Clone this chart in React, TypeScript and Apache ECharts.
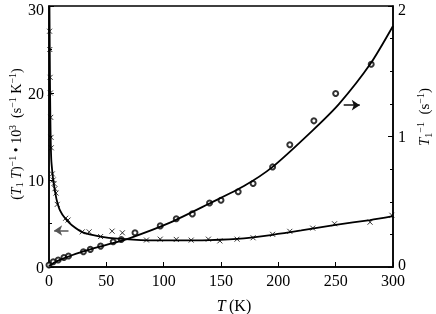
import React, { useEffect, useRef } from "react";
import * as echarts from "echarts";

// (T1 T)^-1 * 10^3 data (crosses), left axis, s^-1 K^-1
const T_CROSS = [0.5, 0.7, 1.0, 1.2, 1.5, 1.8, 2.0, 2.9, 3.7, 4.4, 5.2, 6.1, 7.2, 14.5, 16.6, 29, 35, 45, 55, 64, 85, 97, 111, 124, 139, 149, 164, 178, 195, 210, 230, 249, 280, 299];
const L_CROSS = [27.1, 25.0, 21.8, 20.0, 17.2, 14.9, 13.7, 10.7, 10.0, 9.6, 9.0, 8.5, 7.2, 5.6, 5.4, 4.04, 4.04, 3.5, 4.12, 3.93, 3.1, 3.2, 3.17, 3.09, 3.2, 3.0, 3.2, 3.36, 3.76, 4.1, 4.47, 4.97, 5.15, 5.95];

// fitted curve for (T1 T)^-1
const T_CROSS_FIT = [0.4, 0.8, 1.2, 1.5, 2, 3, 3.7, 5, 6.7, 9.6, 14, 20, 30, 45, 60, 80, 110, 140, 170, 195, 220, 250, 280, 300];
const L_CROSS_FIT = [30, 22, 17, 14.5, 12.3, 10.8, 10, 8.9, 7.7, 6.5, 5.6, 4.8, 3.95, 3.5, 3.25, 3.1, 3.05, 3.1, 3.3, 3.7, 4.2, 4.85, 5.4, 5.85];

// T1^-1 data (circles), right axis, s^-1
const T_CIRC = [0, 3.7, 8, 13, 17, 30, 36, 45, 56, 63, 75, 97, 111, 125, 140, 150, 165, 178, 195, 210, 231, 250, 281, 301];
const R_CIRC = [0.015, 0.04, 0.053, 0.073, 0.084, 0.117, 0.135, 0.16, 0.193, 0.211, 0.262, 0.315, 0.37, 0.407, 0.49, 0.511, 0.577, 0.64, 0.767, 0.937, 1.12, 1.329, 1.553, 1.913];

// fitted curve for T1^-1
const T_CIRC_FIT = [0, 5, 10, 20, 30, 50, 70, 105, 140, 170, 195, 230, 253, 280, 300];
const R_CIRC_FIT = [0.007, 0.037, 0.057, 0.09, 0.12, 0.17, 0.22, 0.338, 0.487, 0.62, 0.767, 1.047, 1.25, 1.553, 1.847];

// arrows: [x0, y0, x1, y1]
const LEFT_ARROW = [17, 4.2, 4.5, 4.2];
const RIGHT_ARROW = [257, 1.24, 271, 1.24];

const X_TICKS = { min: 0, max: 300, interval: 50 };
const LEFT_TICKS = { min: 0, max: 30, interval: 10 };
const RIGHT_TICKS = { min: 0, max: 2, interval: 1 };

const FONT = "Liberation Serif";
const zip = (a: number[], b: number[]) => a.map((v, i) => [v, b[i]]);

const makeRich = (fs: number) => ({
  n: { fontFamily: FONT, fontSize: fs, color: "#000", lineHeight: fs + 3 },
  i: { fontFamily: FONT, fontSize: fs, fontStyle: "italic", color: "#000", lineHeight: fs + 3 },
  sup: { fontFamily: FONT, fontSize: Math.round(fs * 0.68), color: "#000", verticalAlign: "top", lineHeight: Math.round(fs * 0.68) },
  sub: { fontFamily: FONT, fontSize: Math.round(fs * 0.68), color: "#000", verticalAlign: "bottom", lineHeight: Math.round(fs * 0.68) },
});

export default function App() {
  const ref = useRef<HTMLDivElement>(null);
  useEffect(() => {
    if (!ref.current) return;
    const chart = echarts.init(ref.current, null, { renderer: "svg" });
    const axisLine = { show: true, lineStyle: { color: "#000", width: 1.5 } };
    const labelStyle = { color: "#000", fontFamily: FONT, fontSize: 16, lineHeight: 12 };
    const labelRich = {
      dn: { color: "#000", fontFamily: FONT, fontSize: 16, lineHeight: 12, padding: [7, 0, 0, 0] },
      up: { color: "#000", fontFamily: FONT, fontSize: 16, lineHeight: 12, padding: [0, 0, 6, 0] },
    };
    const crossPath = "path://M0,0L10,10M10,0L0,10";
    chart.setOption({
      animation: false,
      grid: {
        left: 49, right: 43, top: 6, bottom: 47, outerBoundsMode: "none", containLabel: false,
        show: true, borderColor: "#000", borderWidth: 1.5, backgroundColor: "transparent",
      },
      xAxis: {
        type: "value", ...X_TICKS,
        axisLine, splitLine: { show: false },
        axisTick: { inside: true, length: 5, lineStyle: { color: "#000" } },
        axisLabel: { ...labelStyle, margin: 7 },
      },
      yAxis: [
        {
          type: "value", ...LEFT_TICKS, position: "left",
          axisLine, splitLine: { show: false },
          axisTick: { inside: true, length: 5, lineStyle: { color: "#000" } },
          minorTick: { show: true, splitNumber: 2, length: 3, lineStyle: { color: "#000" } },
          axisLabel: {
            ...labelStyle, margin: 5, rich: labelRich,
            formatter: (v: number) => (v === LEFT_TICKS.max ? `{dn|${v}}` : `${v}`),
          },
        },
        {
          type: "value", ...RIGHT_TICKS, position: "right",
          axisLine, splitLine: { show: false },
          axisTick: { inside: true, length: 5, lineStyle: { color: "#000" } },
          minorTick: { show: true, splitNumber: 4, length: 3, lineStyle: { color: "#000" } },
          axisLabel: {
            ...labelStyle, margin: 5, verticalAlign: "middle", rich: labelRich,
            formatter: (v: number) =>
              v === RIGHT_TICKS.max ? `{dn|${v}}` : v === RIGHT_TICKS.min ? `{up|${v}}` : `${v}`,
          },
        },
      ],
      graphic: [
        {
          type: "text", x: 234, y: 305, style: {
            text: "{i|T} {n|(K)}", rich: makeRich(16), align: "center", verticalAlign: "middle",
          },
        },
        {
          type: "text", x: 16, y: 134, rotation: Math.PI / 2, style: {
            text: "{n|(}{i|T}{sub|1}{n| }{i|T}{n|)}{sup|−1}{n| • 10}{sup|3}{n|  (s}{sup|−1}{n| K}{sup|−1}{n|)}",
            rich: makeRich(14), align: "center", verticalAlign: "middle",
          },
        },
        {
          type: "text", x: 424, y: 117, rotation: Math.PI / 2, style: {
            text: "{i|T}{sub|1}{sup|−1}{n|  (s}{sup|−1}{n|)}",
            rich: makeRich(15), align: "center", verticalAlign: "middle",
          },
        },
      ],
      series: [
        {
          type: "line", yAxisIndex: 0, data: zip(T_CROSS_FIT, L_CROSS_FIT),
          showSymbol: false, smooth: 0.25,
          lineStyle: { color: "#000", width: 1.8 }, silent: true,
          markLine: {
            silent: true, symbol: ["none", "arrow"], symbolSize: 8, label: { show: false },
            lineStyle: { color: "#555", width: 1.5, type: "solid" },
            data: [[{ coord: [LEFT_ARROW[0], LEFT_ARROW[1]] }, { coord: [LEFT_ARROW[2], LEFT_ARROW[3]] }]],
          },
        },
        {
          type: "scatter", yAxisIndex: 0, data: zip(T_CROSS, L_CROSS),
          symbol: crossPath, symbolSize: 5,
          itemStyle: { color: "none", borderColor: "#000", borderWidth: 1 }, silent: true,
        },
        {
          type: "line", yAxisIndex: 1, data: zip(T_CIRC_FIT, R_CIRC_FIT),
          showSymbol: false, smooth: 0.25,
          lineStyle: { color: "#000", width: 1.8 }, silent: true,
          markLine: {
            silent: true, symbol: ["none", "arrow"], symbolSize: 8, label: { show: false },
            lineStyle: { color: "#111", width: 1.5, type: "solid" },
            data: [[{ coord: [RIGHT_ARROW[0], RIGHT_ARROW[1]] }, { coord: [RIGHT_ARROW[2], RIGHT_ARROW[3]] }]],
          },
        },
        {
          type: "scatter", yAxisIndex: 1, data: zip(T_CIRC, R_CIRC),
          symbol: "emptyCircle", symbolSize: 5,
          itemStyle: { color: "#000", borderColor: "#000", borderWidth: 1 }, silent: true,
        },
      ],
    });
    return () => chart.dispose();
  }, []);
  return <div ref={ref} style={{ position: "fixed", left: 0, top: 0, width: 436, height: 314 }} />;
}
